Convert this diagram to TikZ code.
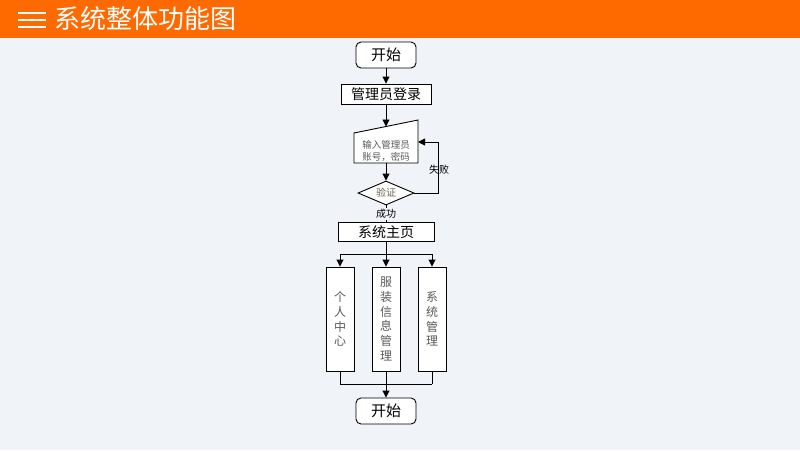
\documentclass[tikz,border=0pt]{standalone}
\usepackage{fontspec}
\setmainfont{Noto Sans CJK SC}
\usetikzlibrary{arrows.meta,shapes.geometric,calc}
\definecolor{hdr}{HTML}{FF6A00}
\definecolor{bg}{HTML}{F0F4F8}
\definecolor{txtg}{HTML}{595959}
\begin{document}
\begin{tikzpicture}[x=1pt,y=-1pt,
  line width=0.9pt,
  arr/.style={-{Triangle[length=7pt,width=7pt]}},
  startbox/.style={draw,rounded corners=5pt,fill=white,minimum width=60pt,minimum height=26pt,inner sep=0pt,font=\fontsize{15}{15}\selectfont},
  rectbox/.style={draw,fill=white,inner sep=0pt,font=\fontsize{14}{14}\selectfont},
  tallbox/.style={draw,fill=white,minimum width=28pt,minimum height=104pt,inner sep=0pt,align=center,text=txtg,font=\fontsize{12}{14.7}\selectfont},
  lbl/.style={font=\fontsize{10}{10}\selectfont,inner sep=1pt}
]
\useasboundingbox (0,0) rectangle (800,450);
\fill[bg] (0,0) rectangle (800,450);
\fill[hdr] (0,0) rectangle (800,38);
\foreach \yy in {13,20,27} \draw[white,line width=2.4pt] (18,\yy) -- (46,\yy);
\node[anchor=west,text=white,font=\fontsize{26}{26}\selectfont,inner sep=0pt] (title) at (54,19) {系统整体功能图};

\node[startbox] (s1) at (386,55) {开始};
\node[rectbox,minimum width=90pt,minimum height=20pt] (login) at (386,94) {管理员登录};
% manual input shape
\coordinate (tl) at (354,133);
\coordinate (tr) at (418,120);
\coordinate (br) at (418,163);
\coordinate (bl) at (354,163);
\fill[white] (tl) -- (tr) -- (br) -- (bl) -- cycle;
\draw (tl) -- (tr) -- (br) -- (bl) -- cycle;
\node[align=center,text=txtg,font=\fontsize{9.5}{11.5}\selectfont,inner sep=0pt] (inp) at (386,151) {输入管理员\\账号，密码};
\coordinate (inptop) at (386,126.5);
\coordinate (inpbot) at (386,163);
\coordinate (inpright) at (418,142);
\node[draw,diamond,fill=white,aspect=2.33,minimum width=56pt,minimum height=24pt,inner sep=0pt,text=txtg!80!brown,font=\fontsize{10}{10}\selectfont] (ver) at (386,193) {验证};
\node[rectbox,minimum width=96pt,minimum height=19pt] (home) at (386,232) {系统主页};

\node[tallbox] (b1) at (340,319) {个\\人\\中\\心};
\node[tallbox] (b2) at (386,319) {服\\装\\信\\息\\管\\理};
\node[tallbox] (b3) at (432,319) {系\\统\\管\\理};
\node[startbox] (s2) at (386,411) {开始};

\draw[arr] (s1) -- (login);
\draw[arr] (login) -- (inptop);
\draw[arr] (inpbot) -- (ver.north);
\draw[arr] (ver.east) -| (438,142) -- (inpright);
\node[lbl] (fail) at (439,170) {失败};
\draw (ver.south) -- (home.north);
\node[lbl,fill=bg] (succ) at (386,214) {成功};

\coordinate (split) at (386,254);
\draw (home.south) -- (split);
\draw (340,254) -- (432,254);
\draw[arr] (340,254) -- (b1.north);
\draw[arr] (split) -- (b2.north);
\draw[arr] (432,254) -- (b3.north);
\draw (b1.south) |- (b3.south |- 0,384);
\draw (b3.south) -- (432,384);
\draw (b2.south) -- (386,384);
\draw[arr] (386,384) -- (s2.north);
\end{tikzpicture}
\end{document}
